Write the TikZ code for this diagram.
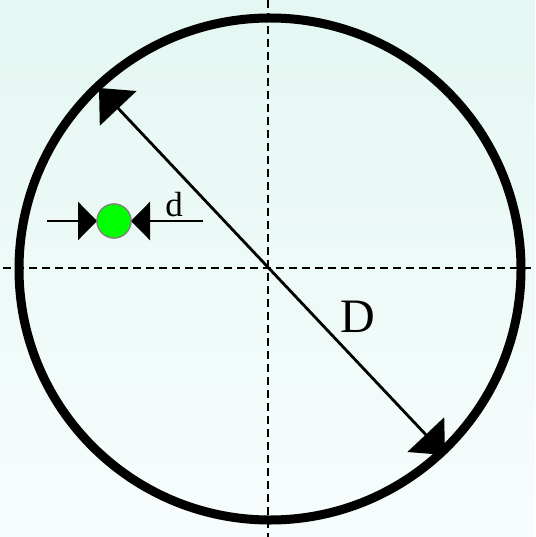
\documentclass[tikz,border=0pt]{standalone}
\usepackage{fontspec}
\setmainfont{Liberation Serif}
\usetikzlibrary{arrows.meta}
\definecolor{bgtop}{RGB}{228,247,242}
\definecolor{bgbot}{RGB}{247,253,253}
\definecolor{dotgreen}{RGB}{0,255,0}
\tikzset{
  axisline/.style={line width=1.5pt, dash pattern=on 8pt off 5pt},
  bigarrow/.style={line width=2.8pt, {Triangle[length=28pt,width=50pt]}-{Triangle[length=28pt,width=50pt]}},
  smallarrow/.style={line width=2.8pt, -{Triangle[length=19pt,width=38pt]}},
  lbl/.style={inner sep=0pt, text=black}
}
\begin{document}
\begin{tikzpicture}[x=1pt,y=-1pt]
\useasboundingbox (0,0) rectangle (535,537);
\shade[top color=bgtop, bottom color=bgbot] (0,0) rectangle (535,537);
% axes
\coordinate (vt) at (268,0);
\coordinate (vb) at (268,537);
\coordinate (hl) at (3,268);
\coordinate (hr) at (535,268);
\draw[axisline] (vt) -- (vb);
\draw[axisline] (hl) -- (hr);
% big circle
\node[circle, draw, line width=9pt, minimum size=502pt, inner sep=0pt, outer sep=0pt] (C) at (270,269) {};
% diameter
\coordinate (A) at (99,88);
\coordinate (B) at (445,455);
\draw[bigarrow] (A) -- (B);
% small particle
\node[circle, fill=dotgreen, draw=gray, line width=1.2pt, minimum size=34pt, inner sep=0pt, outer sep=0pt] (g) at (114,221) {};
\coordinate (L) at (47,221);
\coordinate (R) at (203,221);
\draw[smallarrow] (L) -- (g.west);
\draw[smallarrow] (R) -- (g.east);
\node[circle, fill=dotgreen, draw=gray, line width=1.2pt, minimum size=34pt, inner sep=0pt, outer sep=0pt] at (g) {};
% labels
\node[lbl, font=\fontsize{35}{40}\selectfont] (dl) at (174,205) {d};
\node[lbl, font=\fontsize{48}{54}\selectfont] (Dl) at (358,317) {D};
\end{tikzpicture}
\end{document}
